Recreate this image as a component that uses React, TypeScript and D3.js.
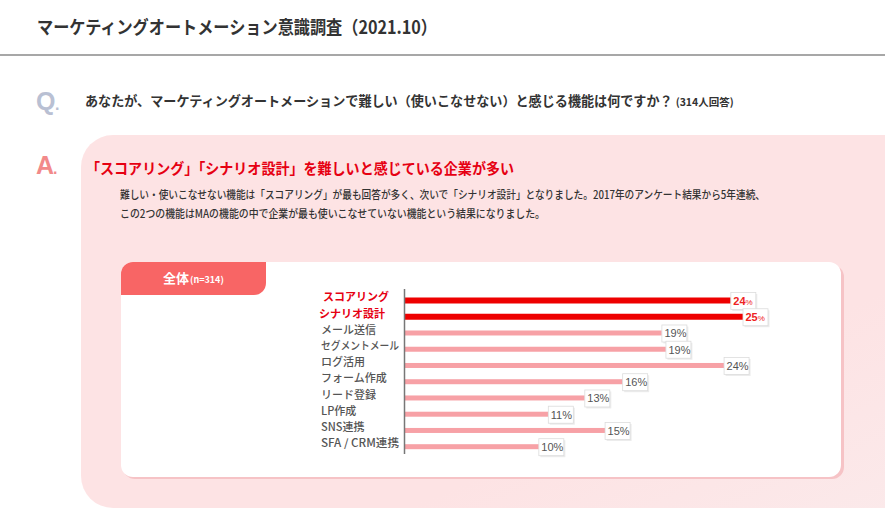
import React from "react";
import * as d3 from "d3";

const categories = [
  "スコアリング",
  "シナリオ設計",
  "メール送信",
  "セグメントメール",
  "ログ活用",
  "フォーム作成",
  "リード登録",
  "LP作成",
  "SNS連携",
  "SFA / CRM連携",
];
// bar lengths (percent)
const values = [24.1, 25.0, 19.0, 19.3, 23.6, 16.1, 13.3, 10.6, 14.8, 9.9];
// printed labels
const valueLabels = ["24", "25", "19", "19", "24", "16", "13", "11", "15", "10"];
const highlighted = [true, true, false, false, false, false, false, false, false, false];

const titleText = "マーケティングオートメーション意識調査（2021.10）";
const questionText = "あなたが、マーケティングオートメーションで難しい（使いこなせない）と感じる機能は何ですか？";
const questionNote = "(314人回答)";
const answerHead = "「スコアリング」「シナリオ設計」を難しいと感じている企業が多い";
const bodyLines = [
  "難しい・使いこなせない機能は「スコアリング」が最も回答が多く、次いで「シナリオ設計」となりました。2017年のアンケート結果から5年連続、",
  "この2つの機能はMAの機能の中で企業が最も使いこなせていない機能という結果になりました。",
];
const tabMain = "全体";
const tabNote = "(n=314)";

const FONT = "'Noto Sans CJK JP', 'Noto Sans', sans-serif";

export default function App() {
  const W = 885;
  const H = 523;
  const x = d3.scaleLinear().domain([0, 25]).range([405, 743]);
  const yBar = d3.scalePoint<string>().domain(categories).range([300.5, 446.7]);
  const yLab = d3.scalePoint<string>().domain(categories).range([297.5, 443.5]);

  const panelPath = (() => {
    const p = d3.path();
    const x0 = 81, y0 = 135, x1 = 900, y1 = 508, r = 32;
    p.moveTo(x0 + r, y0);
    p.lineTo(x1, y0);
    p.lineTo(x1, y1);
    p.lineTo(x0 + r, y1);
    p.arcTo(x0, y1, x0, y1 - r, r);
    p.lineTo(x0, y0 + r);
    p.arcTo(x0, y0, x0 + r, y0, r);
    p.closePath();
    return p.toString();
  })();

  const tabPath = (() => {
    const p = d3.path();
    const x0 = 121, y0 = 262, x1 = 266, y1 = 295, r = 12;
    p.moveTo(x0 + r, y0);
    p.lineTo(x1, y0);
    p.lineTo(x1, y1 - r);
    p.arcTo(x1, y1, x1 - r, y1, r);
    p.lineTo(x0, y1);
    p.lineTo(x0, y0 + r);
    p.arcTo(x0, y0, x0 + r, y0, r);
    p.closePath();
    return p.toString();
  })();

  return (
    <svg width={W} height={H} style={{ position: "absolute", left: 0, top: 0, background: "#fff" }} fontFamily={FONT}>
      <defs>
        <linearGradient id="pg" x1="0" y1="0" x2="1" y2="1">
          <stop offset="0" stopColor="#fde3e4" />
          <stop offset="0.7" stopColor="#fde3e4" />
          <stop offset="1" stopColor="#fbe9ea" />
        </linearGradient>
      </defs>
      <rect x={0} y={0} width={W} height={H} fill="#fff" />
      {/* header */}
      <text x={37} y={34} fontSize={18} fontWeight={700} fill="#333" textLength={400} lengthAdjust="spacingAndGlyphs">
        {titleText}
      </text>
      <line x1={0} x2={W} y1={55} y2={55} stroke="#8a8a8a" strokeWidth={1.5} />

      {/* question */}
      <text x={36} y={110} fontSize={25} fontWeight={700} fill="#b9c0d3" fontFamily="'Liberation Sans', Arial, sans-serif">Q</text>
      <text x={55} y={110} fontSize={16} fontWeight={700} fill="#b9c0d3" fontFamily="'Liberation Sans', Arial, sans-serif">.</text>
      <text x={85} y={106} fontSize={13.1} fontWeight={700} fill="#333">
        {questionText}
        <tspan fontSize={10.5} dx={3}>{questionNote}</tspan>
      </text>

      {/* answer panel */}
      <path d={panelPath} fill="url(#pg)" />
      <text x={36} y={174} fontSize={25} fontWeight={700} fill="#f28a8a" fontFamily="'Liberation Sans', Arial, sans-serif">A</text>
      <text x={53} y={174} fontSize={16} fontWeight={700} fill="#f28a8a" fontFamily="'Liberation Sans', Arial, sans-serif">.</text>
      <text x={86} y={174} fontSize={15} fontWeight={700} fill="#e60012" textLength={428} lengthAdjust="spacingAndGlyphs">
        {answerHead}
      </text>
      {bodyLines.map((t, i) => (
        <text key={i} x={120} y={199 + i * 19} fontSize={11} fontWeight={500} fill="#333" textLength={i === 0 ? 645 : 425} lengthAdjust="spacingAndGlyphs">
          {t}
        </text>
      ))}

      {/* card */}
      <rect x={123} y={265} width={721} height={214} rx={12} fill="#f6c3c6" />
      <rect x={121} y={262} width={720} height={215} rx={12} fill="#fff" />
      <path d={tabPath} fill="#f86565" />
      <text x={163} y={283} fontSize={13} fontWeight={700} fill="#fff">
        {tabMain}
        <tspan fontSize={9} dx={1}>{tabNote}</tspan>
      </text>

      {/* category labels */}
      {categories.map((c, i) => (
        <text
          key={c}
          x={highlighted[i] ? (i === 0 ? 323 : 319) : 321}
          y={yLab(c)!}
          dy="0.35em"
          fontSize={11}
          fontWeight={highlighted[i] ? 700 : 500}
          fill={highlighted[i] ? "#e60012" : "#555"}
          textLength={c.length >= 8 ? 78 : undefined}
          lengthAdjust="spacingAndGlyphs"
        >
          {c}
        </text>
      ))}

      {/* bars */}
      {categories.map((c, i) => {
        const h = highlighted[i] ? 6 : 5;
        return (
          <rect
            key={c}
            x={x(0)}
            y={yBar(c)! - h / 2}
            width={x(values[i]) - x(0)}
            height={h}
            fill={highlighted[i] ? "#ee0000" : "#f7a1a6"}
          />
        );
      })}

      {/* axis */}
      <line x1={404.5} x2={404.5} y1={289} y2={454} stroke="#777" strokeWidth={1.5} />

      {/* value labels */}
      {categories.map((c, i) => {
        const bx = x(values[i]);
        const by = yBar(c)! - 8;
        return (
          <g key={c}>
            <rect x={bx + 1.5} y={by + 1.5} width={25} height={17} fill="#ececec" />
            <rect x={bx} y={by} width={25} height={17} fill="#fff" stroke="#dcdcdc" strokeWidth={0.8} />
            <text
              x={bx + 2.5}
              y={by + 8.5}
              dy="0.35em"
              fontSize={11}
              fontWeight={highlighted[i] ? 700 : 400}
              fill={highlighted[i] ? "#ee2222" : "#555"}
              fontFamily="'Liberation Sans', Arial, sans-serif"
            >
              {valueLabels[i]}
              <tspan fontSize={highlighted[i] ? 8 : 11} fontWeight={400}>%</tspan>
            </text>
          </g>
        );
      })}
    </svg>
  );
}
